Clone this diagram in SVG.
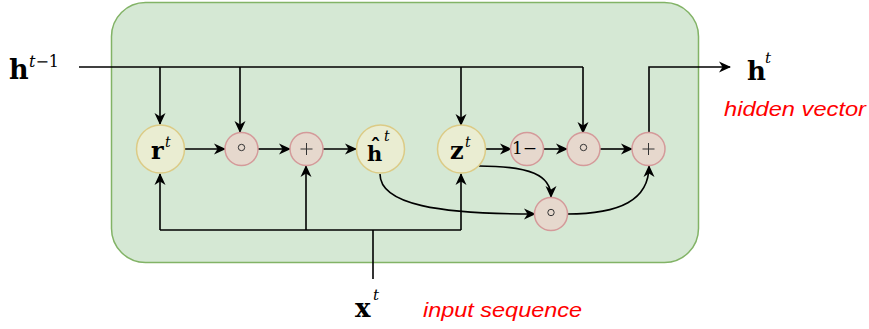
<svg xmlns="http://www.w3.org/2000/svg" width="869" height="329" viewBox="0 0 869 329">
<defs>
<marker id="arr" viewBox="0 0 12 12" refX="11" refY="6" markerWidth="12" markerHeight="12" markerUnits="userSpaceOnUse" orient="auto">
<path d="M0,0.5 L12,6 L0,11.5 L3.5,6 z" fill="#000"/>
</marker>
</defs>
<style>
.big{fill:#eaedd2;stroke:#dccb86;stroke-width:1.5}
.op{fill:#e6d8cd;stroke:#d49a9a;stroke-width:1.5}
.c{fill:none;stroke:#000;stroke-width:1.6}
.a{marker-end:url(#arr)}
.m{font-family:"DejaVu Serif","Liberation Serif",serif;fill:#000}
.b{font-weight:bold}
.i{font-style:italic;font-weight:normal}
.red{font-family:"Liberation Sans",Arial,sans-serif;font-style:italic;fill:#ff0000}
</style>
<rect x="111.5" y="2.5" width="587" height="260" rx="34" ry="34" fill="#d5e8d4" stroke="#82b366" stroke-width="1.5"/>
<g id="connectors">
<path class="c" d="M79,67 H583"/>
<path class="c a" d="M160,67 V124"/>
<path class="c a" d="M240,67 V132"/>
<path class="c a" d="M461,67 V125"/>
<path class="c a" d="M583,67 V133"/>
<path class="c a" d="M185,149 H225"/>
<path class="c a" d="M258,149 H290"/>
<path class="c a" d="M323,149 H356"/>
<path class="c a" d="M486,149 H511"/>
<path class="c a" d="M543,149 H567"/>
<path class="c a" d="M600,149 H632"/>
<path class="c a" d="M649,133 V67 H730"/>
<path class="c" d="M160,230 H461"/>
<path class="c" d="M373,279 V230"/>
<path class="c a" d="M160,230 V174"/>
<path class="c a" d="M306,230 V166"/>
<path class="c a" d="M461,230 V174"/>
<path class="c a" d="M380,174 C380,205 440,214 535,214"/>
<path class="c a" d="M479,166 C530,166 551,175 551,197"/>
<path class="c a" d="M567,214 C620,214 649,200 649,166"/>
</g>
<g id="r"><circle class="big" cx="160.5" cy="149" r="24"/><text class="m"><tspan class="b" x="151" y="159" font-size="24">r</tspan><tspan class="i" x="165" y="147" font-size="14">t</tspan></text></g>
<g id="mul1"><circle class="op" cx="241.5" cy="149" r="16.5"/><circle cx="241.5" cy="147.5" r="3.2" fill="none" stroke="#333" stroke-width="1"/></g>
<g id="add1"><circle class="op" cx="306.5" cy="149" r="16.5"/><path d="M300.5,149 H312.5 M306.5,143 V155" stroke="#333" stroke-width="1"/></g>
<g id="hhat"><circle class="big" cx="380.5" cy="149" r="24"/><text class="m"><tspan class="b" x="367" y="161" dx="0 -12" dy="0 -7" font-size="21">hˆ</tspan><tspan class="i" x="384" y="141" font-size="14">t</tspan></text></g>
<g id="z"><circle class="big" cx="461.5" cy="149" r="24"/><text class="m"><tspan class="b" x="450" y="159" font-size="24">z</tspan><tspan class="i" x="465" y="147" font-size="14">t</tspan></text></g>
<g id="oneminus"><circle class="op" cx="527" cy="149" r="16.5"/><text class="m" x="512" y="154" font-size="17">1−</text></g>
<g id="mul2"><circle class="op" cx="583.5" cy="149" r="16.5"/><circle cx="583.5" cy="147.5" r="3.2" fill="none" stroke="#333" stroke-width="1"/></g>
<g id="add2"><circle class="op" cx="648.5" cy="149" r="16.5"/><path d="M642.5,149 H654.5 M648.5,143 V155" stroke="#333" stroke-width="1"/></g>
<g id="mul3"><circle class="op" cx="551" cy="214" r="16.5"/><circle cx="551" cy="212.5" r="3.2" fill="none" stroke="#333" stroke-width="1"/></g>
<g id="hprev"><text class="m"><tspan class="b" x="9" y="79" font-size="27">h</tspan><tspan class="i" x="29" y="67" font-size="16">t</tspan><tspan font-size="16">−1</tspan></text></g>
<g id="hout"><text class="m"><tspan class="b" x="747" y="80" font-size="26">h</tspan><tspan class="i" x="765" y="63" font-size="15">t</tspan></text></g>
<g id="xin"><text class="m"><tspan class="b" x="355" y="317" font-size="26">x</tspan><tspan class="i" x="373" y="300" font-size="15">t</tspan></text></g>
<text class="red" x="724" y="116" font-size="20" textLength="142" lengthAdjust="spacingAndGlyphs">hidden vector</text>
<text class="red" x="423" y="317" font-size="21" textLength="159" lengthAdjust="spacingAndGlyphs">input sequence</text>
</svg>
